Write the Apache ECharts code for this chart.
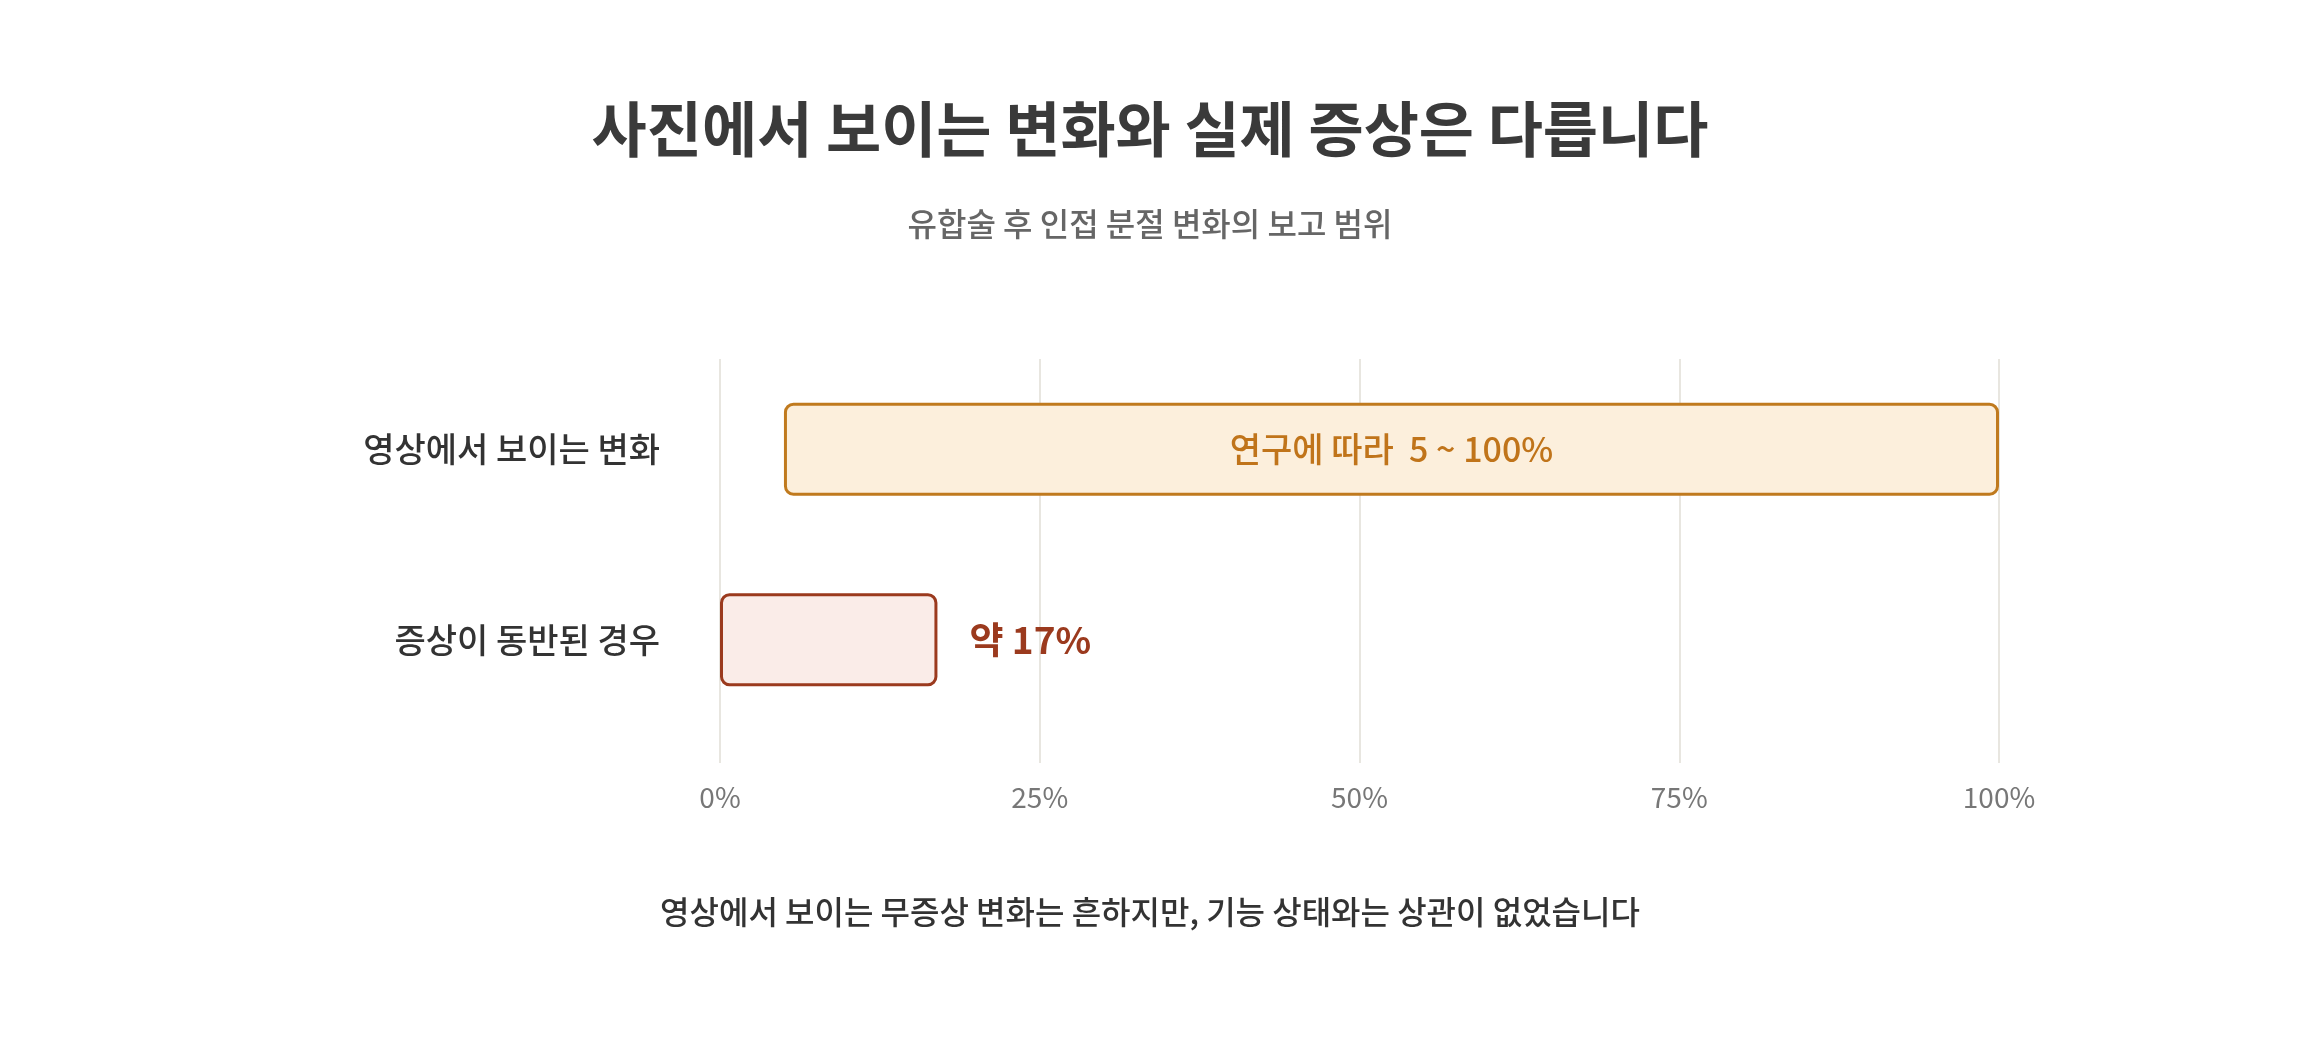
<!DOCTYPE html>
<html><head><meta charset="utf-8">
<script src="https://cdn.jsdelivr.net/npm/echarts@6/dist/echarts.min.js"></script>
<style>html,body{margin:0;background:#fff}#c{width:2300px;height:1040px}</style>
</head><body><div id="c"></div>
<script>
const categories = ['영상에서 보이는 변화', '증상이 동반된 경우'];
const startValues = [5, 0];
const spanValues = [95, 17];
const barLabels = ['연구에 따라  5 ~ 100%', '약 17%'];
const tickLabels = ['0%', '25%', '50%', '75%', '100%'];
const F = '"Noto Sans CJK KR", "Noto Sans", sans-serif';
const chart = echarts.init(document.getElementById('c'));
chart.setOption({
  backgroundColor: '#fff',
  title: [
    {text: '사진에서 보이는 변화와 실제 증상은 다릅니다', left: 'center', top: 94,
     textStyle: {fontFamily: F, fontSize: 60, fontWeight: 'bold', color: '#3a3a3a'}},
    {text: '유합술 후 인접 분절 변화의 보고 범위', left: 'center', top: 203,
     textStyle: {fontFamily: F, fontSize: 32, fontWeight: 500, color: '#666'}},
    {text: '영상에서 보이는 무증상 변화는 흔하지만, 기능 상태와는 상관이 없었습니다', left: 'center', top: 891,
     textStyle: {fontFamily: F, fontSize: 32, fontWeight: 500, color: '#333'}}
  ],
  grid: [
    {left: 720, right: 301, top: 359, bottom: 277},
    {left: 720, right: 301, top: 354, bottom: 305}
  ],
  xAxis: [
    {type: 'value', gridIndex: 0, min: 0, max: 100, interval: 25,
     axisLine: {show: false}, axisTick: {show: false},
     splitLine: {lineStyle: {color: '#e8e6e0', width: 2}},
     axisLabel: {fontFamily: F, fontSize: 28, color: '#777', margin: 20,
       formatter: v => tickLabels[v / 25]}},
    {type: 'value', gridIndex: 1, min: 0, max: 100, show: false}
  ],
  yAxis: [
    {type: 'category', gridIndex: 0, data: [''], show: false},
    {type: 'category', gridIndex: 1, data: categories, inverse: true,
     axisLine: {show: false}, axisTick: {show: false},
     axisLabel: {fontFamily: F, fontSize: 34, fontWeight: 500, color: '#333', margin: 60}}
  ],
  series: [
    {type: 'bar', xAxisIndex: 1, yAxisIndex: 1, stack: 's', data: startValues, barWidth: 93, silent: true,
     itemStyle: {color: 'transparent'}},
    {type: 'bar', xAxisIndex: 1, yAxisIndex: 1, stack: 's', barWidth: 93,
     data: spanValues.map((v, i) => ({
       value: v,
       itemStyle: i === 0
         ? {color: '#fcefdc', borderColor: '#c07a1e', borderWidth: 3, borderRadius: 8}
         : {color: '#faece8', borderColor: '#9b3a1e', borderWidth: 3, borderRadius: 8},
       label: i === 0
         ? {show: true, position: 'inside', formatter: barLabels[0], fontFamily: F, fontSize: 34, fontWeight: 500, color: '#c0741a'}
         : {show: true, position: 'right', distance: 32, formatter: barLabels[1], fontFamily: F, fontSize: 37, fontWeight: 'bold', color: '#9b3a1e'}
     }))}
  ]
});
</script></body></html>
